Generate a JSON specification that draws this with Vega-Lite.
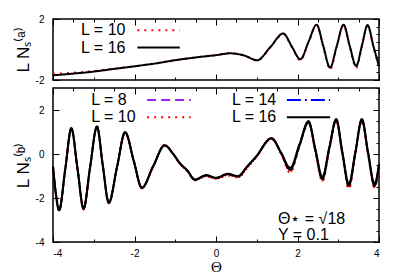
{
  "$schema": "https://vega.github.io/schema/vega-lite/v6.json",
  "padding": {"left": 13, "top": 13, "right": 10, "bottom": 2},
  "spacing": 0,
  "config": {
    "view": {"stroke": "black", "strokeWidth": 1.5},
    "font": "Liberation Sans",
    "axis": {
      "domain": false, "grid": false, "tickColor": "black", "tickWidth": 1,
      "labelColor": "black", "labelFontSize": 10, "labelFont": "Liberation Sans",
      "titleColor": "black", "titleFontWeight": "normal"
    }
  },
  "datasets": {
    "top": [
      {"L": "10", "x": -4.0, "y": -1.60}, {"L": "10", "x": -3.5, "y": -1.52}, {"L": "10", "x": -3.0, "y": -1.41}, {"L": "10", "x": -2.5, "y": -1.25},
      {"L": "10", "x": -2.0, "y": -1.10}, {"L": "10", "x": -1.5, "y": -0.92}, {"L": "10", "x": -1.0, "y": -0.70}, {"L": "10", "x": -0.5, "y": -0.52},
      {"L": "10", "x": 0.0, "y": -0.37}, {"L": "10", "x": 0.35, "y": -0.25}, {"L": "10", "x": 0.7, "y": -0.42}, {"L": "10", "x": 1.01, "y": -0.74},
      {"L": "10", "x": 1.33, "y": 0.12}, {"L": "10", "x": 1.65, "y": 1.0}, {"L": "10", "x": 1.86, "y": 0.15}, {"L": "10", "x": 2.07, "y": -0.72},
      {"L": "10", "x": 2.27, "y": 0.45}, {"L": "10", "x": 2.47, "y": 1.6}, {"L": "10", "x": 2.63, "y": 0.2}, {"L": "10", "x": 2.8, "y": -1.3},
      {"L": "10", "x": 2.96, "y": 0.15}, {"L": "10", "x": 3.13, "y": 1.6}, {"L": "10", "x": 3.28, "y": 0.2}, {"L": "10", "x": 3.44, "y": -1.22},
      {"L": "10", "x": 3.58, "y": 0.2}, {"L": "10", "x": 3.72, "y": 1.57}, {"L": "10", "x": 3.86, "y": 0.2}, {"L": "10", "x": 4.0, "y": -1.22},
      {"L": "16", "x": -4.0, "y": -1.69}, {"L": "16", "x": -3.5, "y": -1.58}, {"L": "16", "x": -3.0, "y": -1.45}, {"L": "16", "x": -2.5, "y": -1.27},
      {"L": "16", "x": -2.0, "y": -1.10}, {"L": "16", "x": -1.5, "y": -0.92}, {"L": "16", "x": -1.0, "y": -0.70}, {"L": "16", "x": -0.5, "y": -0.52},
      {"L": "16", "x": 0.0, "y": -0.37}, {"L": "16", "x": 0.35, "y": -0.25}, {"L": "16", "x": 0.7, "y": -0.40}, {"L": "16", "x": 1.01, "y": -0.70},
      {"L": "16", "x": 1.33, "y": 0.15}, {"L": "16", "x": 1.65, "y": 1.05}, {"L": "16", "x": 1.86, "y": 0.2}, {"L": "16", "x": 2.07, "y": -0.64},
      {"L": "16", "x": 2.27, "y": 0.5}, {"L": "16", "x": 2.47, "y": 1.63}, {"L": "16", "x": 2.63, "y": 0.25}, {"L": "16", "x": 2.8, "y": -1.19},
      {"L": "16", "x": 2.96, "y": 0.2}, {"L": "16", "x": 3.13, "y": 1.63}, {"L": "16", "x": 3.28, "y": 0.25}, {"L": "16", "x": 3.44, "y": -1.08},
      {"L": "16", "x": 3.58, "y": 0.25}, {"L": "16", "x": 3.72, "y": 1.6}, {"L": "16", "x": 3.86, "y": 0.25}, {"L": "16", "x": 4.0, "y": -1.1}
    ],
    "bottom": [
      {"L": "8", "x": -4.0, "y": -0.56}, {"L": "8", "x": -3.93, "y": -1.85}, {"L": "8", "x": -3.85, "y": -2.6}, {"L": "8", "x": -3.7, "y": -0.7},
      {"L": "8", "x": -3.55, "y": 1.15}, {"L": "8", "x": -3.4, "y": -0.65}, {"L": "8", "x": -3.25, "y": -2.52}, {"L": "8", "x": -3.09, "y": -0.6},
      {"L": "8", "x": -2.92, "y": 1.23}, {"L": "8", "x": -2.78, "y": -0.5}, {"L": "8", "x": -2.63, "y": -2.25}, {"L": "8", "x": -2.43, "y": -0.6},
      {"L": "8", "x": -2.23, "y": 0.97}, {"L": "8", "x": -2.02, "y": -0.3}, {"L": "8", "x": -1.82, "y": -1.56}, {"L": "8", "x": -1.54, "y": -0.55},
      {"L": "8", "x": -1.26, "y": 0.42}, {"L": "8", "x": -1.05, "y": 0.0}, {"L": "8", "x": -0.89, "y": -0.44}, {"L": "8", "x": -0.7, "y": -0.8},
      {"L": "8", "x": -0.52, "y": -1.2}, {"L": "8", "x": -0.24, "y": -1.02}, {"L": "8", "x": 0.0, "y": -1.13}, {"L": "8", "x": 0.29, "y": -0.98},
      {"L": "8", "x": 0.54, "y": -1.07}, {"L": "8", "x": 0.77, "y": -0.62}, {"L": "8", "x": 0.99, "y": -0.15}, {"L": "8", "x": 1.36, "y": 0.68},
      {"L": "8", "x": 1.6, "y": 0.0}, {"L": "8", "x": 1.82, "y": -0.86}, {"L": "8", "x": 2.05, "y": 0.35}, {"L": "8", "x": 2.27, "y": 1.4},
      {"L": "8", "x": 2.44, "y": 0.1}, {"L": "8", "x": 2.61, "y": -1.25}, {"L": "8", "x": 2.78, "y": 0.2}, {"L": "8", "x": 2.95, "y": 1.5},
      {"L": "8", "x": 3.1, "y": 0.0}, {"L": "8", "x": 3.26, "y": -1.6}, {"L": "8", "x": 3.42, "y": 0.0}, {"L": "8", "x": 3.58, "y": 1.52},
      {"L": "8", "x": 3.73, "y": 0.0}, {"L": "8", "x": 3.89, "y": -1.52}, {"L": "8", "x": 4.0, "y": -0.6},
      {"L": "10", "x": -4.0, "y": -0.56}, {"L": "10", "x": -3.93, "y": -1.82}, {"L": "10", "x": -3.85, "y": -2.57}, {"L": "10", "x": -3.7, "y": -0.7},
      {"L": "10", "x": -3.55, "y": 1.16}, {"L": "10", "x": -3.4, "y": -0.65}, {"L": "10", "x": -3.25, "y": -2.5}, {"L": "10", "x": -3.09, "y": -0.6},
      {"L": "10", "x": -2.92, "y": 1.24}, {"L": "10", "x": -2.78, "y": -0.5}, {"L": "10", "x": -2.63, "y": -2.23}, {"L": "10", "x": -2.43, "y": -0.6},
      {"L": "10", "x": -2.23, "y": 0.98}, {"L": "10", "x": -2.02, "y": -0.3}, {"L": "10", "x": -1.82, "y": -1.55}, {"L": "10", "x": -1.54, "y": -0.55},
      {"L": "10", "x": -1.26, "y": 0.4}, {"L": "10", "x": -1.05, "y": 0.0}, {"L": "10", "x": -0.89, "y": -0.43}, {"L": "10", "x": -0.7, "y": -0.78},
      {"L": "10", "x": -0.52, "y": -1.18}, {"L": "10", "x": -0.24, "y": -1.0}, {"L": "10", "x": 0.0, "y": -1.11}, {"L": "10", "x": 0.29, "y": -0.95},
      {"L": "10", "x": 0.54, "y": -1.05}, {"L": "10", "x": 0.77, "y": -0.6}, {"L": "10", "x": 0.99, "y": -0.13}, {"L": "10", "x": 1.36, "y": 0.7},
      {"L": "10", "x": 1.6, "y": 0.02}, {"L": "10", "x": 1.82, "y": -0.8}, {"L": "10", "x": 2.05, "y": 0.38}, {"L": "10", "x": 2.27, "y": 1.42},
      {"L": "10", "x": 2.44, "y": 0.12}, {"L": "10", "x": 2.61, "y": -1.22}, {"L": "10", "x": 2.78, "y": 0.22}, {"L": "10", "x": 2.95, "y": 1.52},
      {"L": "10", "x": 3.1, "y": 0.02}, {"L": "10", "x": 3.26, "y": -1.52}, {"L": "10", "x": 3.42, "y": 0.02}, {"L": "10", "x": 3.58, "y": 1.52},
      {"L": "10", "x": 3.73, "y": 0.02}, {"L": "10", "x": 3.89, "y": -1.5}, {"L": "10", "x": 4.0, "y": -0.58},
      {"L": "14", "x": -4.0, "y": -0.56}, {"L": "14", "x": -3.93, "y": -1.8}, {"L": "14", "x": -3.85, "y": -2.56}, {"L": "14", "x": -3.7, "y": -0.7},
      {"L": "14", "x": -3.55, "y": 1.17}, {"L": "14", "x": -3.4, "y": -0.65}, {"L": "14", "x": -3.25, "y": -2.49}, {"L": "14", "x": -3.09, "y": -0.6},
      {"L": "14", "x": -2.92, "y": 1.25}, {"L": "14", "x": -2.78, "y": -0.5}, {"L": "14", "x": -2.63, "y": -2.22}, {"L": "14", "x": -2.43, "y": -0.6},
      {"L": "14", "x": -2.23, "y": 0.99}, {"L": "14", "x": -2.02, "y": -0.3}, {"L": "14", "x": -1.82, "y": -1.54}, {"L": "14", "x": -1.54, "y": -0.55},
      {"L": "14", "x": -1.26, "y": 0.39}, {"L": "14", "x": -1.05, "y": 0.0}, {"L": "14", "x": -0.89, "y": -0.42}, {"L": "14", "x": -0.7, "y": -0.76},
      {"L": "14", "x": -0.52, "y": -1.17}, {"L": "14", "x": -0.24, "y": -0.98}, {"L": "14", "x": 0.0, "y": -1.09}, {"L": "14", "x": 0.29, "y": -0.92},
      {"L": "14", "x": 0.54, "y": -1.02}, {"L": "14", "x": 0.77, "y": -0.57}, {"L": "14", "x": 0.99, "y": -0.11}, {"L": "14", "x": 1.36, "y": 0.71},
      {"L": "14", "x": 1.6, "y": 0.04}, {"L": "14", "x": 1.82, "y": -0.72}, {"L": "14", "x": 2.05, "y": 0.4}, {"L": "14", "x": 2.27, "y": 1.45},
      {"L": "14", "x": 2.44, "y": 0.15}, {"L": "14", "x": 2.61, "y": -1.15}, {"L": "14", "x": 2.78, "y": 0.25}, {"L": "14", "x": 2.95, "y": 1.55},
      {"L": "14", "x": 3.1, "y": 0.05}, {"L": "14", "x": 3.26, "y": -1.45}, {"L": "14", "x": 3.42, "y": 0.05}, {"L": "14", "x": 3.58, "y": 1.55},
      {"L": "14", "x": 3.73, "y": 0.05}, {"L": "14", "x": 3.89, "y": -1.45}, {"L": "14", "x": 4.0, "y": -0.5},
      {"L": "16", "x": -4.0, "y": -0.56}, {"L": "16", "x": -3.93, "y": -1.8}, {"L": "16", "x": -3.85, "y": -2.55}, {"L": "16", "x": -3.7, "y": -0.7},
      {"L": "16", "x": -3.55, "y": 1.17}, {"L": "16", "x": -3.4, "y": -0.65}, {"L": "16", "x": -3.25, "y": -2.48}, {"L": "16", "x": -3.09, "y": -0.6},
      {"L": "16", "x": -2.92, "y": 1.25}, {"L": "16", "x": -2.78, "y": -0.5}, {"L": "16", "x": -2.63, "y": -2.21}, {"L": "16", "x": -2.43, "y": -0.6},
      {"L": "16", "x": -2.23, "y": 0.99}, {"L": "16", "x": -2.02, "y": -0.3}, {"L": "16", "x": -1.82, "y": -1.53}, {"L": "16", "x": -1.54, "y": -0.55},
      {"L": "16", "x": -1.26, "y": 0.39}, {"L": "16", "x": -1.05, "y": 0.0}, {"L": "16", "x": -0.89, "y": -0.41}, {"L": "16", "x": -0.7, "y": -0.75},
      {"L": "16", "x": -0.52, "y": -1.16}, {"L": "16", "x": -0.24, "y": -0.96}, {"L": "16", "x": 0.0, "y": -1.08}, {"L": "16", "x": 0.29, "y": -0.9},
      {"L": "16", "x": 0.54, "y": -1.0}, {"L": "16", "x": 0.77, "y": -0.55}, {"L": "16", "x": 0.99, "y": -0.1}, {"L": "16", "x": 1.36, "y": 0.72},
      {"L": "16", "x": 1.6, "y": 0.05}, {"L": "16", "x": 1.82, "y": -0.63}, {"L": "16", "x": 2.05, "y": 0.45}, {"L": "16", "x": 2.27, "y": 1.5},
      {"L": "16", "x": 2.44, "y": 0.2}, {"L": "16", "x": 2.61, "y": -1.05}, {"L": "16", "x": 2.78, "y": 0.3}, {"L": "16", "x": 2.95, "y": 1.59},
      {"L": "16", "x": 3.1, "y": 0.1}, {"L": "16", "x": 3.26, "y": -1.35}, {"L": "16", "x": 3.42, "y": 0.1}, {"L": "16", "x": 3.58, "y": 1.59},
      {"L": "16", "x": 3.73, "y": 0.1}, {"L": "16", "x": 3.89, "y": -1.35}, {"L": "16", "x": 4.0, "y": -0.45}
    ]
  },
  "vconcat": [
    {
      "width": 326,
      "height": 61,
      "resolve": {"axis": {"x": "independent", "y": "independent"}},
      "layer": [
        {
          "layer": [
            {
              "data": {"name": "top"},
              "mark": {"type": "line", "interpolate": "monotone", "strokeWidth": 2},
              "encoding": {
                "x": {"field": "x", "type": "quantitative",
                  "scale": {"domain": [-4, 4], "nice": false, "zero": false},
                  "axis": {"orient": "bottom", "values": [-4,-3.5,-3,-2.5,-2,-1.5,-1,-0.5,0,0.5,1,1.5,2,2.5,3,3.5,4], "labels": false, "title": null,
                    "tickSize": {"condition": {"test": "datum.value % 2 === 0", "value": -6}, "value": -3}}},
                "y": {"field": "y", "type": "quantitative",
                  "scale": {"domain": [-2, 2], "nice": false, "zero": false},
                  "axis": {"orient": "left", "values": [-2,-1.5,-1,-0.5,0,0.5,1,1.5,2], "labelExpr": "datum.value % 2 === 0 ? '' + datum.value : ''",
                    "labelPadding": 15, "title": "L Nₛ⁽ᵃ⁾", "titleFontSize": 17, "titlePadding": 3, "titleFont": "Liberation Sans",
                    "tickSize": {"condition": {"test": "datum.value % 2 === 0", "value": -6}, "value": -3}}},
                "color": {"field": "L", "type": "nominal", "scale": {"domain": ["10", "16"], "range": ["#ff0000", "#000000"]}, "legend": null},
                "strokeDash": {"field": "L", "type": "nominal", "scale": {"domain": ["10", "16"], "range": [[2, 5], [1, 0]]}, "legend": null}
              }
            },
            {
              "data": {"values": [{"t": "L = 10"}]},
              "mark": {"type": "text", "align": "left", "baseline": "middle", "fontSize": 16, "color": "black"},
              "encoding": {"x": {"datum": -3.31}, "y": {"datum": 1.27}, "text": {"field": "t"}}
            },
            {
              "data": {"values": [{"t": "L = 16"}]},
              "mark": {"type": "text", "align": "left", "baseline": "middle", "fontSize": 16, "color": "black"},
              "encoding": {"x": {"datum": -3.31}, "y": {"datum": 0.13}, "text": {"field": "t"}}
            },
            {
              "data": {"values": [{"L": "10"}]},
              "mark": {"type": "rule", "color": "#ff0000", "strokeWidth": 2, "strokeDash": [2, 5]},
              "encoding": {"x": {"datum": -1.93}, "x2": {"datum": -0.89}, "y": {"datum": 1.27}}
            },
            {
              "data": {"values": [{"L": "16"}]},
              "mark": {"type": "rule", "color": "#000000", "strokeWidth": 2},
              "encoding": {"x": {"datum": -1.93}, "x2": {"datum": -0.89}, "y": {"datum": 0.13}}
            }
          ]
        },
        {
          "data": {"values": [{}]},
          "mark": {"type": "point", "opacity": 0},
          "encoding": {
            "x": {"datum": 0, "type": "quantitative",
              "axis": {"orient": "top", "values": [-4,-3.5,-3,-2.5,-2,-1.5,-1,-0.5,0,0.5,1,1.5,2,2.5,3,3.5,4], "labels": false, "title": null,
                "tickSize": {"condition": {"test": "datum.value % 2 === 0", "value": -6}, "value": -3}}},
            "y": {"datum": 0, "type": "quantitative",
              "axis": {"orient": "right", "values": [-2,-1.5,-1,-0.5,0,0.5,1,1.5,2], "labels": false, "title": null,
                "tickSize": {"condition": {"test": "datum.value % 2 === 0", "value": -6}, "value": -3}}}
          }
        }
      ]
    },
    {
      "width": 326,
      "height": 154,
      "resolve": {"axis": {"x": "independent", "y": "independent"}},
      "layer": [
        {
          "layer": [
            {
              "data": {"name": "bottom"},
              "mark": {"type": "line", "interpolate": "monotone", "strokeWidth": 2},
              "encoding": {
                "x": {"field": "x", "type": "quantitative",
                  "scale": {"domain": [-4, 4], "nice": false, "zero": false},
                  "axis": {"orient": "bottom", "values": [-4,-3.5,-3,-2.5,-2,-1.5,-1,-0.5,0,0.5,1,1.5,2,2.5,3,3.5,4],
                    "labelExpr": "datum.value % 2 === 0 ? '' + datum.value : ''", "labelPadding": 12,
                    "title": "Θ", "titleFont": "Liberation Serif", "titleFontSize": 15, "titlePadding": 1,
                    "tickSize": {"condition": {"test": "datum.value % 2 === 0", "value": -6}, "value": -3}}},
                "y": {"field": "y", "type": "quantitative",
                  "scale": {"domain": [-4, 3], "nice": false, "zero": false},
                  "axis": {"orient": "left", "values": [-4,-3.5,-3,-2.5,-2,-1.5,-1,-0.5,0,0.5,1,1.5,2,2.5,3], "labelExpr": "datum.value % 2 === 0 ? '' + datum.value : ''",
                    "labelPadding": 15, "title": "L Nₛ⁽ᵇ⁾", "titleFontSize": 17, "titlePadding": 3, "titleFont": "Liberation Sans",
                    "tickSize": {"condition": {"test": "datum.value % 2 === 0", "value": -6}, "value": -3}}},
                "color": {"field": "L", "type": "nominal", "scale": {"domain": ["8", "10", "14", "16"], "range": ["#a020f0", "#ff0000", "#0000ff", "#000000"]}, "legend": null},
                "strokeDash": {"field": "L", "type": "nominal", "scale": {"domain": ["8", "10", "14", "16"], "range": [[9, 5], [2, 5], [14, 4, 2, 4], [1, 0]]}, "legend": null}
              }
            },
            {
              "data": {"values": [{"t": "L = 8"}]},
              "mark": {"type": "text", "align": "left", "baseline": "middle", "fontSize": 16, "color": "black"},
              "encoding": {"x": {"datum": -3.06}, "y": {"datum": 2.45}, "text": {"field": "t"}}
            },
            {
              "data": {"values": [{"t": "L = 10"}]},
              "mark": {"type": "text", "align": "left", "baseline": "middle", "fontSize": 16, "color": "black"},
              "encoding": {"x": {"datum": -3.06}, "y": {"datum": 1.67}, "text": {"field": "t"}}
            },
            {
              "data": {"values": [{"t": "L = 14"}]},
              "mark": {"type": "text", "align": "left", "baseline": "middle", "fontSize": 16, "color": "black"},
              "encoding": {"x": {"datum": 0.39}, "y": {"datum": 2.45}, "text": {"field": "t"}}
            },
            {
              "data": {"values": [{"t": "L = 16"}]},
              "mark": {"type": "text", "align": "left", "baseline": "middle", "fontSize": 16, "color": "black"},
              "encoding": {"x": {"datum": 0.39}, "y": {"datum": 1.67}, "text": {"field": "t"}}
            },
            {
              "data": {"values": [{"L": "8"}]},
              "mark": {"type": "rule", "color": "#a020f0", "strokeWidth": 2, "strokeDash": [9, 5]},
              "encoding": {"x": {"datum": -1.69}, "x2": {"datum": -0.62}, "y": {"datum": 2.45}}
            },
            {
              "data": {"values": [{"L": "10"}]},
              "mark": {"type": "rule", "color": "#ff0000", "strokeWidth": 2, "strokeDash": [2, 5]},
              "encoding": {"x": {"datum": -1.69}, "x2": {"datum": -0.62}, "y": {"datum": 1.67}}
            },
            {
              "data": {"values": [{"L": "14"}]},
              "mark": {"type": "rule", "color": "#0000ff", "strokeWidth": 2, "strokeDash": [14, 4, 2, 4]},
              "encoding": {"x": {"datum": 1.74}, "x2": {"datum": 2.8}, "y": {"datum": 2.45}}
            },
            {
              "data": {"values": [{"L": "16"}]},
              "mark": {"type": "rule", "color": "#000000", "strokeWidth": 2},
              "encoding": {"x": {"datum": 1.74}, "x2": {"datum": 2.8}, "y": {"datum": 1.67}}
            },
            {
              "data": {"values": [{"t": "Θ⋆ = √18"}]},
              "mark": {"type": "text", "align": "left", "baseline": "middle", "fontSize": 16, "color": "black"},
              "encoding": {"x": {"datum": 1.52}, "y": {"datum": -2.96}, "text": {"field": "t"}}
            },
            {
              "data": {"values": [{"t": "Y = 0.1"}]},
              "mark": {"type": "text", "align": "left", "baseline": "middle", "fontSize": 16, "color": "black"},
              "encoding": {"x": {"datum": 1.52}, "y": {"datum": -3.67}, "text": {"field": "t"}}
            }
          ]
        },
        {
          "data": {"values": [{}]},
          "mark": {"type": "point", "opacity": 0},
          "encoding": {
            "x": {"datum": 0, "type": "quantitative",
              "axis": {"orient": "top", "values": [-4,-3.5,-3,-2.5,-2,-1.5,-1,-0.5,0,0.5,1,1.5,2,2.5,3,3.5,4], "labels": false, "title": null,
                "tickSize": {"condition": {"test": "datum.value % 2 === 0", "value": -6}, "value": -3}}},
            "y": {"datum": 0, "type": "quantitative",
              "axis": {"orient": "right", "values": [-4,-3.5,-3,-2.5,-2,-1.5,-1,-0.5,0,0.5,1,1.5,2,2.5,3], "labels": false, "title": null,
                "tickSize": {"condition": {"test": "datum.value % 2 === 0", "value": -6}, "value": -3}}}
          }
        }
      ]
    }
  ]
}
